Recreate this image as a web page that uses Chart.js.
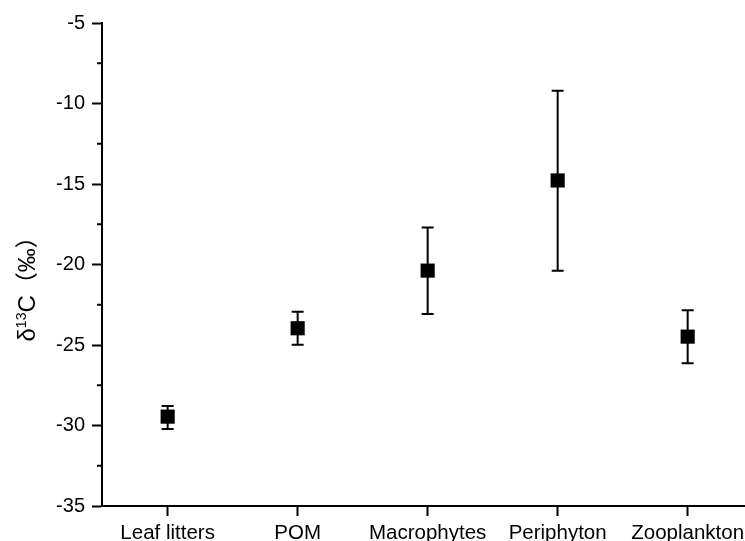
<!DOCTYPE html>
<html lang="en">
<head>
  <meta charset="UTF-8">
  <title>d13C</title>
  <script src="https://cdn.jsdelivr.net/npm/chart.js@4.4.1/dist/chart.umd.min.js"></script>
  <style>
    body { margin: 0; background: #fff; }
    #wrap { width: 745px; height: 541px; }
  </style>
</head>
<body>
<div id="wrap">
  <canvas id="myChart" width="745" height="541"></canvas>
</div>

<script>
  // values
  const categories = ["Leaf litters", "POM", "Macrophytes", "Periphyton", "Zooplankton"];
  const means = [-29.45, -23.96, -20.38, -14.78, -24.48];
  const errTop = [-28.79, -22.94, -17.70, -9.21, -22.84];
  const errBottom = [-30.22, -24.99, -23.07, -20.39, -26.13];
  const minorTicks = [-32.5, -27.5, -22.5, -17.5, -12.5, -7.5];

  const font = "'Liberation Sans', Arial, sans-serif";
  const cjkFont = "'Noto Sans CJK SC', 'Liberation Sans', sans-serif";

  // error bars + minor ticks, drawn through the scales
  const extras = {
    id: "extras",
    beforeDatasetsDraw(chart) {
      const ctx = chart.ctx;
      const x = chart.scales.x, y = chart.scales.y;
      ctx.save();
      ctx.strokeStyle = "#000";
      ctx.lineWidth = 2;
      categories.forEach((c, i) => {
        const px = x.getPixelForValue(i);
        const t = y.getPixelForValue(errTop[i]);
        const b = y.getPixelForValue(errBottom[i]);
        ctx.beginPath();
        ctx.moveTo(px, t); ctx.lineTo(px, b);
        ctx.moveTo(px - 6, t); ctx.lineTo(px + 6, t);
        ctx.moveTo(px - 6, b); ctx.lineTo(px + 6, b);
        ctx.stroke();
      });
      const left = chart.chartArea.left;
      minorTicks.forEach(v => {
        const py = y.getPixelForValue(v);
        ctx.beginPath();
        ctx.moveTo(left, py); ctx.lineTo(left - 5, py);
        ctx.stroke();
      });
      ctx.restore();
    },
    // y axis title with a real superscript
    afterDraw(chart) {
      const ctx = chart.ctx;
      const area = chart.chartArea;
      ctx.save();
      ctx.translate(35, (area.top + area.bottom) / 2 + 77);
      ctx.rotate(-Math.PI / 2);
      ctx.fillStyle = "#000";
      ctx.textBaseline = "alphabetic";
      let cx = 0;
      const put = (txt, f, dy) => {
        ctx.font = f;
        ctx.fillText(txt, cx, dy);
        cx += ctx.measureText(txt).width;
      };
      put("δ", "24px " + font, 0);
      put("13", "14px " + font, -9);
      put("C", "24px " + font, 0);
      put("（", "23px " + cjkFont, 0);
      put("‰", "24px " + font, 0);
      put("）", "23px " + cjkFont, 0);
      ctx.restore();
    }
  };

  new Chart(document.getElementById("myChart"), {
    type: "scatter",
    data: {
      datasets: [{
        data: means.map((m, i) => ({ x: i, y: m })),
        pointStyle: "rect",
        pointRadius: 10,
        pointHoverRadius: 10,
        backgroundColor: "#000",
        borderWidth: 0
      }]
    },
    options: {
      responsive: false,
      animation: false,
      layout: { autoPadding: false, padding: { top: 23, left: 0, right: 0, bottom: 0 } },
      plugins: { legend: { display: false }, tooltip: { enabled: false } },
      scales: {
        x: {
          type: "linear",
          min: -0.505,
          max: 4.441,
          afterBuildTicks: s => { s.ticks = categories.map((c, i) => ({ value: i })); },
          afterFit: s => { s.height = 35; s.paddingRight = 0; s.paddingLeft = 0; },
          ticks: {
            callback: v => categories[v],
            color: "#000",
            font: { family: font, size: 20.5 },
            padding: 5,
            maxRotation: 0,
            autoSkip: false
          },
          grid: { drawOnChartArea: false, tickLength: 10, tickWidth: 2, tickColor: "#000" },
          border: { color: "#000", width: 2 }
        },
        y: {
          min: -35,
          max: -5,
          afterFit: s => { s.width = 102; },
          ticks: {
            stepSize: 5,
            color: "#000",
            font: { family: font, size: 20 },
            padding: 7
          },
          grid: { drawOnChartArea: false, tickLength: 10, tickWidth: 2, tickColor: "#000" },
          border: { color: "#000", width: 2 }
        }
      }
    },
    plugins: [extras]
  });
</script>
</body>
</html>
